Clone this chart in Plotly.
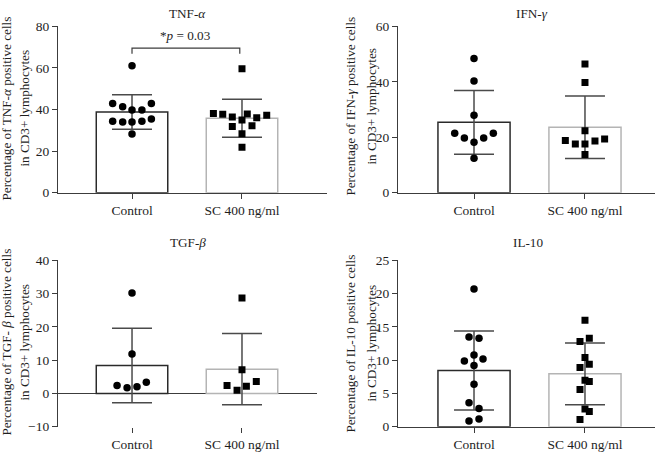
import plotly.graph_objects as go

categories = ["Control", "SC 400 ng/ml"]

# TNF-alpha
tnf_ctrl = [61.1, 42.9, 41.3, 39.8, 39.8, 42.9, 34.4, 34.0, 34.0, 34.4, 35.4, 28.2]
tnf_ctrl_dx = [0, -0.176, -0.085, 0, 0.09, 0.176, -0.176, -0.085, 0, 0.09, 0.176, 0]
tnf_sc = [59.6, 38.1, 37.7, 36.4, 34.9, 37.8, 36.1, 37.3, 31.8, 28.4, 32.2, 21.9]
tnf_sc_dx = [0, -0.26, -0.175, -0.088, 0, 0.048, 0.134, 0.225, -0.088, 0, 0.091, 0]
tnf_mean = [38.8, 35.8]
tnf_sd = [8.3, 9.1]

# IFN-gamma
ifn_ctrl = [48.4, 40.3, 27.9, 21.4, 19.7, 18.2, 19.7, 21.4, 12.4]
ifn_ctrl_dx = [0, 0, 0, -0.174, -0.087, 0, 0.087, 0.174, 0]
ifn_sc = [46.4, 39.7, 22.3, 18.8, 17.6, 17.6, 18.6, 19.4, 13.8]
ifn_sc_dx = [0, 0, 0, -0.177, -0.087, 0, 0.09, 0.177, 0]
ifn_mean = [25.4, 23.6]
ifn_sd = [11.5, 11.3]

# TGF-beta
tgf_ctrl = [30.2, 11.9, 2.4, 1.7, 2.0, 3.4]
tgf_ctrl_dx = [0, 0, -0.136, -0.045, 0.045, 0.13]
tgf_sc = [28.7, 7.1, 2.4, 1.0, 2.2, 3.6]
tgf_sc_dx = [0, 0, -0.136, -0.045, 0.04, 0.13]
tgf_mean = [8.4, 7.3]
tgf_sd = [11.2, 10.7]

# IL-10
il10_ctrl = [20.7, 13.5, 13.3, 9.9, 10.8, 10.2, 9.2, 6.4, 3.6, 2.75, 0.87, 1.16]
il10_ctrl_dx = [0, -0.045, 0.045, -0.087, 0, 0.081, 0, 0, -0.045, 0.045, -0.045, 0.045]
il10_sc = [16.0, 12.8, 13.3, 10.4, 8.9, 9.4, 7.0, 6.8, 5.6, 2.65, 2.3, 1.1]
il10_sc_dx = [0, -0.045, 0.039, 0, -0.045, 0.039, 0, 0.039, -0.045, 0, 0.039, -0.045]
il10_mean = [8.45, 7.95]
il10_sd = [5.95, 4.65]

W, H = 660, 457
FONT = "Liberation Serif"
AX = "#3c3c3c"
TXT = "#1e1e1e"


def px_x(p):
    return p / W


def px_y(p):
    return 1 - p / H


fig = go.Figure()

panels = [
    dict(n=1, ctrl=tnf_ctrl, cdx=tnf_ctrl_dx, sc=tnf_sc, sdx=tnf_sc_dx, mean=tnf_mean, sd=tnf_sd,
         xdom=(58, 327), ydom=(20, 192), xr=(-0.673, 1.773), yr=(0, 80), dt=20),
    dict(n=2, ctrl=ifn_ctrl, cdx=ifn_ctrl_dx, sc=ifn_sc, sdx=ifn_sc_dx, mean=ifn_mean, sd=ifn_sd,
         xdom=(398, 655), ydom=(20, 192), xr=(-0.685, 1.631), yr=(0, 60), dt=20),
    dict(n=3, ctrl=tgf_ctrl, cdx=tgf_ctrl_dx, sc=tgf_sc, sdx=tgf_sc_dx, mean=tgf_mean, sd=tgf_sd,
         xdom=(58, 317), ydom=(262, 434), xr=(-0.673, 1.682), yr=(-10, 40), dt=10),
    dict(n=4, ctrl=il10_ctrl, cdx=il10_ctrl_dx, sc=il10_sc, sdx=il10_sc_dx, mean=il10_mean, sd=il10_sd,
         xdom=(398, 655), ydom=(262, 434), xr=(-0.685, 1.631), yr=(0, 25), dt=5),
]

for p in panels:
    n = p["n"]
    xa = "x" if n == 1 else f"x{n}"
    ya = "y" if n == 1 else f"y{n}"
    fig.add_trace(go.Bar(
        x=[0, 1], y=p["mean"], width=0.65, xaxis=xa, yaxis=ya,
        marker=dict(color="white", line=dict(color=["#2a2a2a", "#b4b4b4"], width=1.5)),
        error_y=dict(type="data", array=p["sd"], visible=True, color="#4a4a4a",
                     thickness=1.5, width=20),
        showlegend=False, hoverinfo="skip",
    ))
    fig.add_trace(go.Scatter(
        x=[0 + d for d in p["cdx"]], y=p["ctrl"], mode="markers", xaxis=xa, yaxis=ya,
        marker=dict(symbol="circle", size=7.5, color="black"), showlegend=False,
    ))
    fig.add_trace(go.Scatter(
        x=[1 + d for d in p["sdx"]], y=p["sc"], mode="markers", xaxis=xa, yaxis=ya,
        marker=dict(symbol="square", size=7, color="black"), showlegend=False,
    ))
    key = "" if n == 1 else str(n)
    xdom = [px_x(p["xdom"][0]), px_x(p["xdom"][1])]
    ydom = [px_y(p["ydom"][1]), px_y(p["ydom"][0])]
    fig.layout["xaxis" + key] = dict(
        domain=xdom, range=list(p["xr"]), tickvals=[0, 1], ticktext=categories,
        showline=(n != 3), linecolor=AX, linewidth=1.3, ticks="outside", ticklen=5,
        tickcolor=AX, tickwidth=1.3, showgrid=False, zeroline=False,
        anchor=ya, fixedrange=True,
        tickfont=dict(family=FONT, size=13.5, color=TXT),
    )
    fig.layout["yaxis" + key] = dict(
        domain=ydom, range=list(p["yr"]), dtick=p["dt"], tick0=0,
        showline=True, linecolor=AX, linewidth=1.3, ticks="outside", ticklen=5,
        tickcolor=AX, tickwidth=1.3, showgrid=False,
        zeroline=(n == 3), zerolinecolor=AX, zerolinewidth=1.3,
        anchor=xa, fixedrange=True,
        tickfont=dict(family=FONT, size=13.5, color=TXT),
    )

# significance bracket on TNF panel
fig.add_shape(type="path", path="M 0,66.8 L 0,69.5 L 0.98,69.5 L 0.98,66.8",
              xref="x", yref="y", line=dict(color=AX, width=1.2))

ann_font = dict(family=FONT, size=13.2, color=TXT)
annotations = [
    dict(x=0.49, y=75.4, xref="x", yref="y", text="*<i>p</i> = 0.03", showarrow=False,
         font=ann_font),
    dict(x=px_x(187), y=px_y(7), text="TNF-<i>α</i>"),
    dict(x=px_x(532), y=px_y(7), text="IFN-<i>γ</i>"),
    dict(x=px_x(188), y=px_y(243), text="TGF-<i>β</i>"),
    dict(x=px_x(528), y=px_y(243), text="IL-10"),
]
ytitles = [
    (7, 25, 105, "Percentage of TNF-<i>α</i> positive cells"),
    (351, 372, 103, "Percentage of IFN-<i>γ</i> positive cells"),
    (7, 25, 347, "Percentage of TGF- <i>β</i> positive cells"),
    (351, 372, 348, "Percentage of IL-10 positive cells"),
]
for x1, x2, yc, t in ytitles:
    annotations.append(dict(x=px_x(x1), y=px_y(yc), text=t, textangle=-90))
    annotations.append(dict(x=px_x(x2), y=px_y(yc), text="in CD3+ lymphocytes", textangle=-90))

for a in annotations:
    a.setdefault("xref", "paper")
    a.setdefault("yref", "paper")
    a.setdefault("showarrow", False)
    a.setdefault("font", ann_font)
    a.setdefault("xanchor", "center")
    a.setdefault("yanchor", "middle")
    fig.add_annotation(**a)

fig.update_layout(
    width=W, height=H, margin=dict(l=0, r=0, t=0, b=0),
    plot_bgcolor="white", paper_bgcolor="white", barmode="overlay",
)

fig.write_html("out.html", config={"displayModeBar": False})

# remove the browser's default page margin so the figure sits at the window origin
with open("out.html", "r", encoding="utf-8") as f:
    html = f.read()
html = html.replace("<head>", "<head><style>html,body{margin:0;padding:0;overflow:hidden;}</style>", 1)
with open("out.html", "w", encoding="utf-8") as f:
    f.write(html)
